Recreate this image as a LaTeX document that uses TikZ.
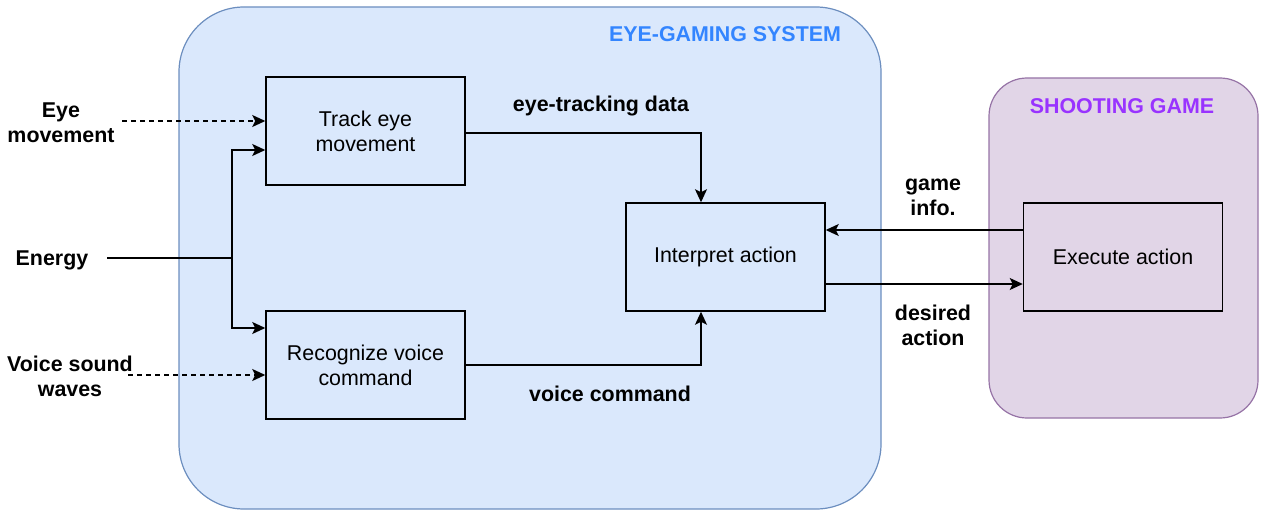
\documentclass[tikz,border=0pt]{standalone}
\usepackage{fontspec}
\setmainfont{Liberation Sans}
\usetikzlibrary{arrows.meta}
\definecolor{sysfill}{HTML}{DAE8FC}
\definecolor{sysline}{HTML}{6C8EBF}
\definecolor{gamefill}{HTML}{E1D5E7}
\definecolor{gameline}{HTML}{9673A6}
\definecolor{systitle}{HTML}{3385FF}
\definecolor{gametitle}{HTML}{9933FF}
\begin{document}
\begin{tikzpicture}[x=1pt,y=-1pt,
  font=\fontsize{21.4}{25}\selectfont,
  stepbox/.style={draw=black,line width=1.5pt,minimum width=199pt,minimum height=108pt,align=center,inner sep=0pt},
  lbl/.style={font=\fontsize{21.4}{25}\selectfont\bfseries,align=center,inner sep=0pt},
  ttl/.style={font=\fontsize{21.4}{25}\selectfont\bfseries,inner sep=0pt},
  conn/.style={line width=1.4pt,-{Stealth[length=13pt,width=12pt,inset=3pt]}},
  dconn/.style={conn,dash pattern=on 5pt off 4pt}]
\useasboundingbox (0,0) rectangle (1266,516);
% containers
\draw[fill=sysfill,draw=sysline,line width=1.2pt,rounded corners=65pt] (179,7) rectangle (881,509);
\draw[fill=gamefill,draw=gameline,line width=1.2pt,rounded corners=38pt] (989,78) rectangle (1258,418);
\node[ttl,text=systitle] (systtl) at (725,34) {EYE-GAMING SYSTEM};
\node[ttl,text=gametitle] (gamettl) at (1122,106) {SHOOTING GAME};
% boxes
\node[stepbox] (track) at (365.5,131) {Track eye\\movement};
\node[stepbox] (voice) at (365.5,365) {Recognize voice\\command};
\node[stepbox] (interp) at (725.5,257) {Interpret action};
\node[stepbox] (exec) at (1123,257) {Execute action};
% input labels
\node[lbl] (eyelbl) at (61,123) {Eye\\movement};
\node[lbl] (energy) at (52,260) {Energy};
\node[lbl] (voicelbl) at (70,376) {Voice sound\\waves};
\coordinate (eyeS) at (122,121);
\coordinate (energyS) at (107,258);
\coordinate (voiceS) at (128,375);
\coordinate (j) at (232,258);
% connectors
\draw[dconn] (eyeS) -- ([yshift=10pt]track.west);
\draw[dconn] (voiceS) -- ([yshift=-10pt]voice.west);
\draw[line width=1.4pt] (energyS) -- (j);
\draw[conn] (j) |- ([yshift=-19pt]track.west);
\draw[conn] (j) |- ([yshift=37pt]voice.west);
\draw[conn] ([yshift=-2pt]track.east) -| ([xshift=-24.5pt]interp.north);
\draw[conn] (voice.east) -| ([xshift=-24.5pt]interp.south);
\draw[conn] ([yshift=27pt]exec.west) -- ([yshift=27pt]interp.east);
\draw[conn] ([yshift=-27pt]interp.east) -- ([yshift=-27pt]exec.west);
% connector labels
\node[lbl] (etd) at (601,106) {eye-tracking data};
\node[lbl] (vc) at (610,394) {voice command};
\node[lbl] (gi) at (933,197) {game\\info.};
\node[lbl] (da) at (933,325) {desired\\action};
\end{tikzpicture}
\end{document}
